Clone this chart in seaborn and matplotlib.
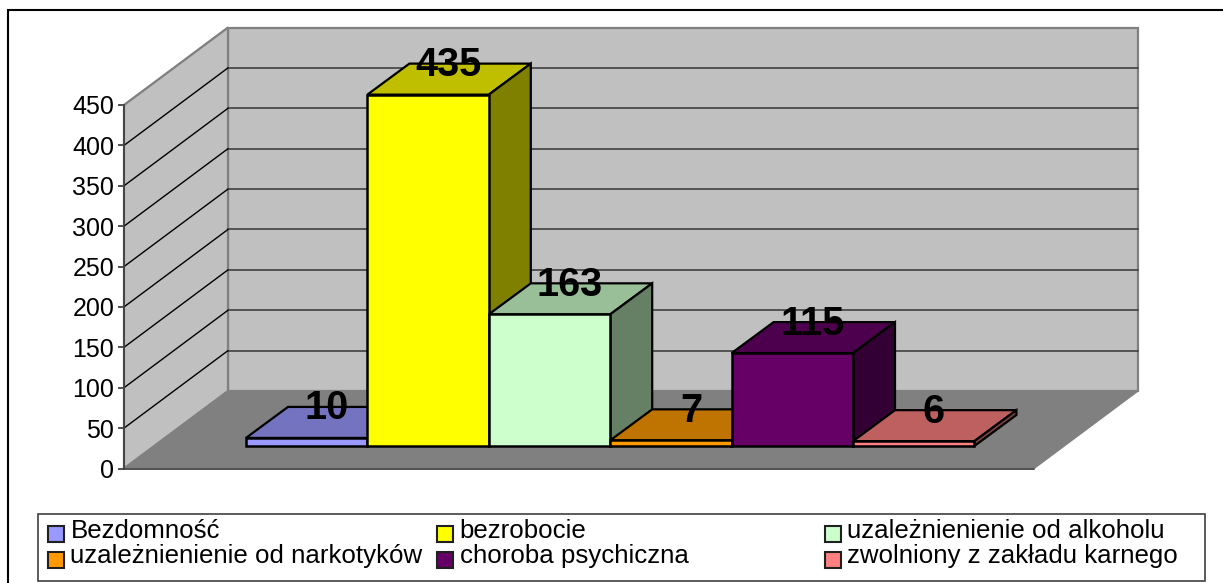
import pandas as pd
import matplotlib
matplotlib.use('Agg')
import matplotlib.pyplot as plt
from matplotlib.patches import Polygon, Rectangle
from matplotlib.transforms import Affine2D
import seaborn as sns

categories = ['Bezdomność', 'bezrobocie', 'uzależnienienie od alkoholu',
              'uzależnienienie od narkotyków', 'choroba psychiczna',
              'zwolniony z zakładu karnego']
values = [10, 435, 163, 7, 115, 6]
colors = ['#9999FF', '#FFFF00', '#CCFFCC', '#FF9900', '#660066', '#FF8080']
yticks = [0, 50, 100, 150, 200, 250, 300, 350, 400, 450]

W, H = 1223, 583
sns.set_theme(style='white')
plt.rcParams['font.family'] = ['Liberation Sans', 'DejaVu Sans']

fig = plt.figure(figsize=(W / 100, H / 100), dpi=100)
# axes is the front plane of the 3d box
ax = fig.add_axes([124 / W, 1 - 468.5 / H, 910 / W, 363.5 / H])
ux = 121.4              # pixels per bar
uy = 363.5 / 450        # pixels per value

df = pd.DataFrame({'cat': categories, 'val': values})
sns.barplot(data=df, x='cat', y='val', hue='cat', palette=colors, legend=False,
            width=1, edgecolor='black', linewidth=1.8, saturation=1, ax=ax, zorder=20)

# depth of the box and of the bars, in data units
box_dx, box_dy = 104 / ux, 77.5 / uy
bar_dx, bar_dy = 30 / ux, 22.5 / uy
dep_dx, dep_dy = 42 / ux, 31 / uy

xl = -0.5 - 92 / ux
xr = xl + 910 / ux
ax.set_xlim(xl, xr)
ax.set_ylim(0, 450)

for p in ax.patches:
    p.set_transform(Affine2D().translate(bar_dx, bar_dy) + ax.transData)
    p.set_clip_on(False)


def shade(col, f):
    return tuple(c * f for c in matplotlib.colors.to_rgb(col))


def poly(pts, **kw):
    ax.add_patch(Polygon(pts, closed=True, clip_on=False, **kw))


# walls and floor
wall = '#C0C0C0'
edge = '#808080'
poly([(xl + box_dx, box_dy), (xr + box_dx, box_dy), (xr + box_dx, 450 + box_dy), (xl + box_dx, 450 + box_dy)],
     fc=wall, ec=edge, lw=1.6, zorder=1)
poly([(xl, 0), (xl + box_dx, box_dy), (xl + box_dx, 450 + box_dy), (xl, 450)],
     fc=wall, ec=edge, lw=1.6, zorder=1)
poly([(xl, 0), (xr, 0), (xr + box_dx, box_dy), (xl + box_dx, box_dy)],
     fc=edge, ec=edge, lw=1.0, zorder=2)
ax.plot([xl, xr], [0, 0], color='#505050', lw=1.4, zorder=3, clip_on=False)

for t in yticks[1:]:
    if t < 450:
        ax.plot([xl + box_dx, xr + box_dx], [t + box_dy, t + box_dy], color='#404040', lw=1.2, zorder=3, clip_on=False)
    ax.plot([xl, xl + box_dx], [t, t + box_dy], color='black' if t < 450 else edge, lw=1.0, zorder=3, clip_on=False)

# bar sides and tops, left to right so the nearer ones cover
for i, (v, c) in enumerate(zip(values, colors)):
    l = i - 0.5 + bar_dx
    r = i + 0.5 + bar_dx
    b = bar_dy
    t = v + bar_dy
    z = 5 + i
    poly([(l, t), (r, t), (r + dep_dx, t + dep_dy), (l + dep_dx, t + dep_dy)],
         fc=shade(c, 0.75), ec='black', lw=1.6, zorder=z)
    poly([(r, b), (r + dep_dx, b + dep_dy), (r + dep_dx, t + dep_dy), (r, t)],
         fc=shade(c, 0.5), ec='black', lw=1.6, zorder=z)

for i, v in enumerate(values):
    ax.text(i + bar_dx + dep_dx / 2 - 1 / ux, v + bar_dy + dep_dy - 1.5 / uy, str(v), ha='center', va='center',
            fontsize=28.5, fontweight='bold', color='black', zorder=30, clip_on=False)

ax.set_xticks([])
ax.set_xlabel('')
ax.set_ylabel('')
ax.set_yticks(yticks)
ax.tick_params(axis='y', left=True, length=4.5, width=1.3, color='#404040', labelsize=18, pad=2.5, labelcolor='black')
sns.despine(ax=ax, top=True, right=True, bottom=True)
ax.spines['left'].set_color('#404040')
ax.spines['left'].set_linewidth(1.3)
ax.spines['left'].set_zorder(4)

# outer frame and legend, figure pixels
fig.add_artist(Rectangle((8 / W, -0.01), 1300 / W, 1 - 10 / H + 0.01, transform=fig.transFigure,
                         fc='none', ec='black', lw=1.5, zorder=0))
fig.add_artist(Rectangle((38 / W, 1 - 581 / H), (1205 - 38) / W, (581 - 514) / H, transform=fig.transFigure,
                         fc='white', ec='#404040', lw=1.2))
leg_x = [48, 437, 825]
leg_y = [542, 568]
text_y = [537.5, 563.5]
for i, (name, c) in enumerate(zip(categories, colors)):
    px = leg_x[i % 3]
    py = leg_y[i // 3]
    fig.add_artist(Rectangle((px / W, 1 - py / H), 16 / W, 16 / H, transform=fig.transFigure,
                             fc=c, ec='#202020', lw=1.5))
    fig.text((px + 22.5) / W, 1 - text_y[i // 3] / H, name, ha='left', va='baseline', fontsize=18.6, color='black')

fig.savefig('out.png', dpi=100)
